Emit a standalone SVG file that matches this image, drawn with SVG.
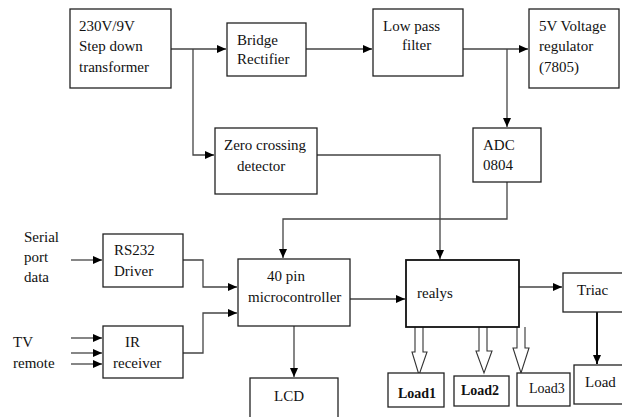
<svg xmlns="http://www.w3.org/2000/svg" width="622" height="417" viewBox="0 0 622 417">
<defs>
<marker id="ah" markerWidth="10" markerHeight="8" refX="9" refY="4" orient="auto" markerUnits="userSpaceOnUse">
<path d="M0,0 L9,4 L0,8 Z" fill="#000"/>
</marker>
<style>
.box{fill:#fff;stroke:#222;stroke-width:1.3}
.ln{fill:none;stroke:#444;stroke-width:1.3}
.hl{fill:#fff;stroke:#333;stroke-width:1.1}
text{font-size:15px;fill:#111}
.b{font-weight:bold;font-size:14px}
</style>
</defs>
<rect width="622" height="417" fill="#fff"/>
<g id="connectors">
<path class="ln" d="M171,49 H226" marker-end="url(#ah)"/>
<path class="ln" d="M193,49 V155 H214" marker-end="url(#ah)"/>
<path class="ln" d="M306,49 H372" marker-end="url(#ah)"/>
<path class="ln" d="M463,49 H528" marker-end="url(#ah)"/>
<path class="ln" d="M507,49 V127" marker-end="url(#ah)"/>
<path class="ln" d="M317,155 H440 V259" marker-end="url(#ah)"/>
<path class="ln" d="M507,182 V219 H283 V258" marker-end="url(#ah)"/>
<path class="ln" d="M71,260 H102" marker-end="url(#ah)"/>
<path class="ln" d="M183,260 H203 V287 H237" marker-end="url(#ah)"/>
<path class="ln" d="M183,353 H203 V313 H237" marker-end="url(#ah)"/>
<path class="ln" d="M71,338 H102" marker-end="url(#ah)"/>
<path class="ln" d="M71,353 H102" marker-end="url(#ah)"/>
<path class="ln" d="M71,364 H102" marker-end="url(#ah)"/>
<path class="ln" d="M294,326 V377" marker-end="url(#ah)"/>
<path class="ln" d="M350,299 H405" marker-end="url(#ah)"/>
<path class="ln" d="M519,287 H562" marker-end="url(#ah)"/>
<path class="ln" style="stroke:#111;stroke-width:2" d="M597,312 V364" marker-end="url(#ah)"/>
<path class="hl" d="M415,327 V352 H412 L419,375 L427,352 H423 V327"/>
<path class="hl" d="M479,327 V351 H476 L484,373 L492,351 H487 V327"/>
<path class="hl" d="M517,327 V348 H513 L521,373 L529,348 H525 V327"/>
</g>
<g font-family="'Liberation Serif', 'DejaVu Serif', serif">
<g id="transformer"><rect class="box" x="70" y="9" width="101" height="79"/>
<text x="79" y="31">230V/9V</text><text x="79" y="51">Step down</text><text x="79" y="72">transformer</text></g>
<g id="bridge"><rect class="box" x="227" y="23" width="79" height="53"/>
<text x="237" y="45">Bridge</text><text x="237" y="64">Rectifier</text></g>
<g id="lpf"><rect class="box" x="373" y="9" width="90" height="67"/>
<text x="383" y="31">Low pass</text><text x="402" y="50">filter</text></g>
<g id="regulator"><rect class="box" x="529" y="9" width="90" height="79"/>
<text x="539" y="31">5V Voltage</text><text x="539" y="51">regulator</text><text x="539" y="72">(7805)</text></g>
<g id="zcd"><rect class="box" x="215" y="128" width="102" height="66"/>
<text x="224" y="150">Zero crossing</text><text x="237" y="171">detector</text></g>
<g id="adc"><rect class="box" x="473" y="128" width="68" height="54"/>
<text x="483" y="150">ADC</text><text x="483" y="170">0804</text></g>
<g id="serial"><text x="24" y="242">Serial</text><text x="24" y="262">port</text><text x="24" y="282">data</text></g>
<g id="rs232"><rect class="box" x="103" y="234" width="80" height="53"/>
<text x="114" y="255">RS232</text><text x="114" y="276">Driver</text></g>
<g id="tv"><text x="13" y="347">TV</text><text x="13" y="368">remote</text></g>
<g id="ir"><rect class="box" x="103" y="326" width="80" height="52"/>
<text x="125" y="347">IR</text><text x="113" y="368">receiver</text></g>
<g id="mcu"><rect class="box" x="238" y="259" width="112" height="67"/>
<text x="267" y="281">40 pin</text><text x="248" y="302">microcontroller</text></g>
<g id="lcd"><rect class="box" x="250" y="378" width="88" height="45"/>
<text x="274" y="401">LCD</text></g>
<g id="relays"><rect class="box" style="stroke-width:1.8;stroke:#111" x="406" y="260" width="113" height="67"/>
<text x="417" y="298">realys</text></g>
<g id="triac"><rect class="box" x="563" y="273" width="62" height="39"/>
<text x="577" y="295">Triac</text></g>
<g id="load"><rect class="box" x="574" y="365" width="50" height="39"/>
<text x="585" y="387">Load</text></g>
<g id="load1"><rect class="box" x="388" y="373" width="56" height="34"/>
<text class="b" x="398" y="398">Load1</text></g>
<g id="load2"><rect class="box" x="454" y="376" width="55" height="30"/>
<text class="b" x="461" y="395">Load2</text></g>
<g id="load3"><rect class="box" x="517" y="373" width="53" height="33"/>
<text x="529" y="393" style="font-size:14px">Load3</text></g>
</g>
</svg>
